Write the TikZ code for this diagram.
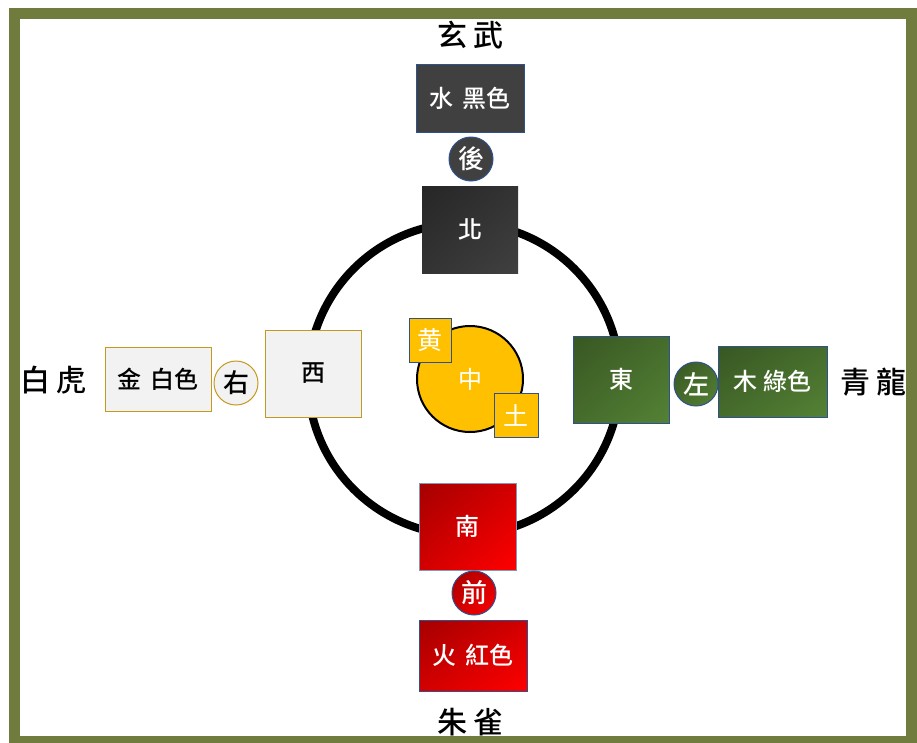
\documentclass[tikz,border=0pt]{standalone}
\usepackage{fontspec}
\usetikzlibrary{shadings}
\newfontfamily\cjk{Noto Sans CJK TC}[UprightFont=* Medium]
\newfontfamily\cjkb{Noto Sans CJK TC}
\definecolor{frameol}{RGB}{112,123,62}
\definecolor{bordblue}{RGB}{47,82,143}
\definecolor{gold}{RGB}{196,154,30}
\definecolor{lgray}{RGB}{242,242,242}
\definecolor{dgA}{RGB}{38,38,38}
\definecolor{dgB}{RGB}{64,64,64}
\definecolor{dgM}{RGB}{51,51,51}
\definecolor{rdA}{RGB}{165,0,0}
\definecolor{rdB}{RGB}{255,0,0}
\definecolor{rdM}{RGB}{210,0,0}
\definecolor{grA}{RGB}{56,87,35}
\definecolor{grB}{RGB}{84,130,53}
\definecolor{grM}{RGB}{70,108,44}
\definecolor{amber}{RGB}{255,192,0}
\begin{document}
\begin{tikzpicture}[x=1pt,y=-1pt,
  base/.style={inner sep=0pt, line width=1pt, font=\cjk\fontsize{24}{24}\selectfont},
  darkbox/.style={base, text=white, shade, upper left=dgA, upper right=dgM, lower left=dgM, lower right=dgB},
  redbox/.style={base, draw=bordblue!60, text=white, shade, upper left=rdA, upper right=rdM, lower left=rdM, lower right=rdB},
  greenbox/.style={base, draw=bordblue, text=white, shade, upper left=grA, upper right=grM, lower left=grM, lower right=grB},
  whitebox/.style={base, draw=gold, fill=lgray, text=black},
  ambbox/.style={base, draw=bordblue, fill=amber, text=white, font=\cjkb\fontsize{25}{25}\selectfont},
  disc/.style={circle, minimum size=44pt, font=\cjk\fontsize{26}{26}\selectfont},
  beast/.style={inner sep=0pt, text=black, font=\cjk\fontsize{30}{30}\selectfont}
]
\useasboundingbox (0,0) rectangle (917,742);
\fill[white] (0,0) rectangle (917,742);
\draw[line width=11pt, frameol] (14.5,13) rectangle (911.5,741.5);

% ring
\coordinate (ringc) at (464,379);
\draw[line width=8pt, black] (ringc) circle[radius=156];

% north
\node[darkbox, minimum width=96pt, minimum height=87pt] (north) at (470,229.5) {北};
\node[base, draw=bordblue, fill=dgB, text=white, minimum width=108pt, minimum height=68pt] (water) at (470,98) {水\hspace{9pt}黑色};
\node[base, disc, draw=bordblue, fill=dgB, text=white] (hou) at (471,159) {後};
\node[beast] (xuanwu) at (470,35) {玄\hspace{6pt}武};

% west
\node[whitebox, minimum width=96pt, minimum height=87pt] (west) at (313,373.5) {西};
\node[whitebox, disc] (you) at (236,383) {右};
\node[whitebox, minimum width=106pt, minimum height=64pt] (metal) at (158,379) {金\hspace{9pt}白色};
\node[beast] (baihu) at (53,380) {白\hspace{6pt}虎};

% east
\node[greenbox, minimum width=96pt, minimum height=87pt] (east) at (621,379.5) {東};
\node[greenbox, disc] (zuo) at (696,384) {左};
\node[greenbox, minimum width=109pt, minimum height=71pt] (wood) at (772.5,381.5) {木\hspace{6pt}綠色};
\node[beast] (qinglong) at (873,382) {青\hspace{6pt}龍};

% south
\node[redbox, minimum width=97pt, minimum height=87pt] (south) at (467.5,526.5) {南};
\node[redbox, disc, draw=bordblue] (qian) at (474,593) {前};
\node[redbox, draw=bordblue, minimum width=108pt, minimum height=71pt] (fire) at (473,655.5) {火\hspace{9pt}紅色};
\node[beast] (zhuque) at (470,722) {朱\hspace{6pt}雀};

% centre
\node[base, circle, draw=black, line width=2pt, fill=amber, text=white, minimum size=106pt, font=\cjkb\fontsize{24}{24}\selectfont] (centre) at (470,379) {中};
\node[ambbox, minimum width=42pt, minimum height=44pt] (huang) at (430,340) {黄};
\node[ambbox, minimum width=44pt, minimum height=44pt] (tu) at (516,415) {土};
\end{tikzpicture}
\end{document}
